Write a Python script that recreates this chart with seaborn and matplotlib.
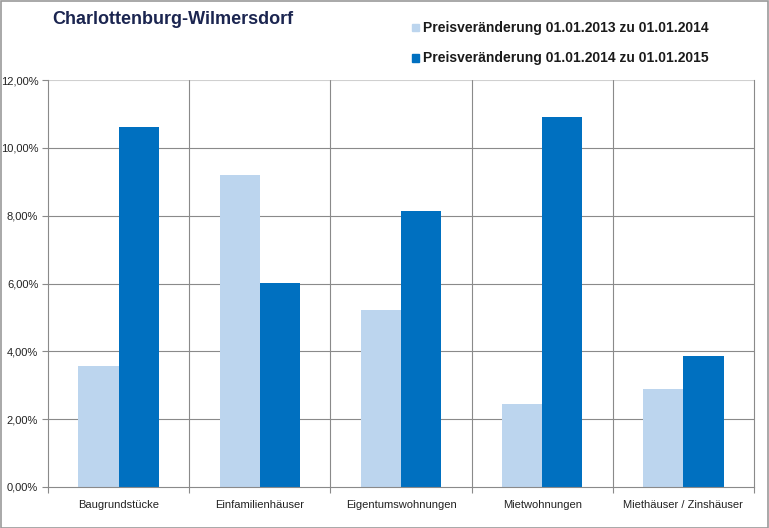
import numpy as np
import pandas as pd
import matplotlib.pyplot as plt
import seaborn as sns
from matplotlib.ticker import FuncFormatter, FixedLocator

categories = ["Baugrundstücke", "Einfamilienhäuser", "Eigentumswohnungen",
              "Mietwohnungen", "Miethäuser / Zinshäuser"]
series_names = ["Preisveränderung 01.01.2013 zu 01.01.2014",
                "Preisveränderung 01.01.2014 zu 01.01.2015"]
change_2014 = [3.57, 9.20, 5.22, 2.45, 2.89]
change_2015 = [10.62, 6.02, 8.14, 10.91, 3.86]

colors = ["#BCD5EE", "#0070C0"]

df = pd.DataFrame({
    "Kategorie": categories * 2,
    "Serie": [series_names[0]] * 5 + [series_names[1]] * 5,
    "Wert": change_2014 + change_2015,
})

sns.set_style("white")
plt.rcParams["font.family"] = ["Liberation Sans", "DejaVu Sans"]

fig = plt.figure(figsize=(7.69, 5.28), dpi=100)
ax = fig.add_axes([48 / 769, 1 - 487 / 528, (754 - 48) / 769, (487 - 80) / 528])

sns.barplot(data=df, x="Kategorie", y="Wert", hue="Serie", palette=colors,
            width=0.57, gap=0, ax=ax, saturation=1, legend=False, linewidth=0)

ax.set_ylim(0, 12)
ax.set_xlim(-0.5, len(categories) - 0.5)
ax.set_yticks(np.arange(0, 12.1, 2))
ax.yaxis.set_major_formatter(FuncFormatter(lambda v, _: f"{v:.2f}%".replace(".", ",")))
ax.set_xlabel("")
ax.set_ylabel("")

grid_c = "#8a8a8a"
for y in np.arange(2, 12, 2):
    ax.axhline(y, color=grid_c, lw=0.8, zorder=0)
ax.axhline(12, color="#d0d0d0", lw=0.8, zorder=0)
for x in np.arange(0.5, len(categories) - 1, 1):
    ax.axvline(x, color=grid_c, lw=0.8, zorder=0)

for s in ["left", "bottom", "right"]:
    ax.spines[s].set_color(grid_c)
    ax.spines[s].set_linewidth(0.8)
ax.spines["top"].set_visible(False)

ax.tick_params(axis="y", length=4, width=0.8, color=grid_c, labelsize=8,
               labelcolor="#222222", left=True, pad=3)
ax.tick_params(axis="x", which="major", length=0, labelsize=8,
               labelcolor="#222222", pad=9)
ax.xaxis.set_minor_locator(FixedLocator(np.arange(-0.5, len(categories), 1)))
ax.tick_params(axis="x", which="minor", length=4, width=0.8, color=grid_c, bottom=True)

fig.text(52 / 769, 1 - 19 / 528, "Charlottenburg-Wilmersdorf", fontsize=13,
         fontweight="bold", color="#1B2550", va="center", ha="left")

for i, (name, c) in enumerate(zip(series_names, colors)):
    yy = 1 - (28 + 30 * i) / 528
    fig.patches.append(plt.Rectangle((412 / 769, yy - 3.5 / 528), 7 / 769, 7 / 528,
                                     transform=fig.transFigure, color=c, figure=fig))
    fig.text(423 / 769, yy, name, fontsize=10, fontweight="bold",
             color="#1a1a1a", va="center", ha="left")

fig.patches.append(plt.Rectangle((0.5 / 769, 0.5 / 528), 767.5 / 769, 526.5 / 528,
                                 transform=fig.transFigure, fill=False,
                                 edgecolor="#9a9a9a", lw=1.2, figure=fig))

fig.savefig("out.png", dpi=100)
